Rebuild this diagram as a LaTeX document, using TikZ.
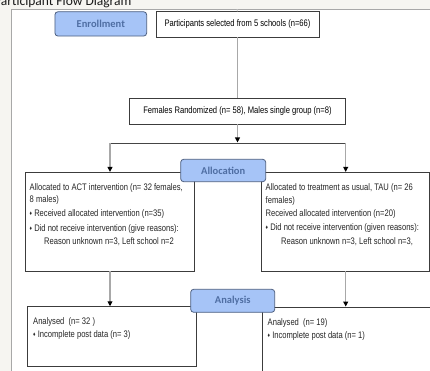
\documentclass[tikz,border=0pt]{standalone}
\usepackage{fontspec}
\setmainfont{Liberation Sans}
\newfontfamily\boxfont[FakeStretch=0.8]{Liberation Sans}
\newfontfamily\lblfont{Carlito}
\usetikzlibrary{arrows.meta}
\definecolor{bgc}{HTML}{F6F5F1}
\definecolor{framec}{HTML}{A8A8A8}
\definecolor{lblfill}{HTML}{A6C4F7}
\definecolor{lbldraw}{HTML}{4D5F80}
\definecolor{lbltext}{HTML}{4F6EA3}
\definecolor{boxdraw}{HTML}{3C3C3C}
\definecolor{vline}{HTML}{A8A8A8}
\definecolor{hline}{HTML}{454545}
\newcommand\mybul{{\fontsize{6}{6}\selectfont\raisebox{0.6pt}{♦}}}
\begin{document}
\begin{tikzpicture}[x=1pt,y=-1pt,
  box/.style={draw=boxdraw,line width=0.8pt,fill=white,rectangle,inner sep=0pt},
  lbl/.style={draw=lbldraw,line width=0.8pt,fill=lblfill,rounded corners=3pt,inner sep=0pt,
    font=\lblfont\bfseries\fontsize{10.5}{12}\selectfont,text=lbltext},
  txt/.style={anchor=base west,inner sep=0pt,font=\boxfont\fontsize{9.5}{11}\selectfont,text=black!85},
  flow/.style={draw=vline,line width=1.2pt,-{Triangle[length=5pt,width=4.8pt,color=black]}},
  plain/.style={draw=vline,line width=1.2pt},
  faint/.style={draw=black!15,line width=1pt},
  hl/.style={draw=hline,line width=0.9pt}
]
\useasboundingbox (0,0) rectangle (430,371);
\fill[bgc] (0,0) rectangle (430,371);
\fill[white] (11,9.5) rectangle (450,390);
\draw[framec,line width=0.9pt] (450,9.5) -- (11,9.5) -- (11,390);

\node[anchor=base west,inner sep=0pt,font=\lblfont\fontsize{13.5}{15}\selectfont,text=black!90] (title) at (-6,5.5) {Participant Flow Diagram};

\coordinate (ftop) at (237,9.5);
\node[box,minimum width=163pt,minimum height=25.3pt,font=\boxfont\fontsize{9.5}{11}\selectfont] (part) at (237.5,24.3) {Participants selected from 5 schools (n=66)};
\draw[faint] (ftop) -- (part.north);
\node[lbl,minimum width=91.7pt,minimum height=24.3pt] (enroll) at (100.8,23.9) {Enrollment};

\node[box,minimum width=216.4pt,minimum height=25.7pt,font=\boxfont\fontsize{9.5}{11}\selectfont] (fem) at (237.5,111.2) {Females Randomized (n= 58), Males single group (n=8)};
\draw[plain] (part.south) -- (fem.north);

\coordinate (split) at (237.5,142.5);
\coordinate (sl) at (110,143);
\coordinate (sr) at (345.7,143);

\node[box,minimum width=168.6pt,minimum height=98.7pt] (act) at (110,221.7) {};
\node[box,minimum width=168.3pt,minimum height=98.7pt] (tau) at (345.2,221.7) {};

\draw[flow] (fem.south) -- (split);
\draw[hl] (sl) -- (sr);
\draw[flow] (sl) -- (act.north);
\draw[flow] (sr) -- (sr |- tau.north);

\node[txt] (a1) at (29.5,190) {Allocated to ACT intervention (n= 32 females,};
\node[txt] (a2) at (29.5,202.5) {8 males)};
\node[txt] (a3) at (29.5,216) {\mybul\ Received allocated intervention (n=35)};
\node[txt] (a4) at (29.5,231) {\mybul\ Did not receive intervention (give reasons):};
\node[txt] (a5) at (44,244) {Reason unknown n=3, Left school n=2};

\node[txt] (t1) at (265.5,190) {Allocated to treatment as usual, TAU (n= 26};
\node[txt] (t2) at (265.5,203) {females)};
\node[txt] (t3) at (265.5,216.5) {Received allocated intervention (n=20)};
\node[txt] (t4) at (265.5,230) {\mybul\ Did not receive intervention (given reasons):};
\node[txt] (t5) at (281,244) {Reason unknown n=3, Left school n=3,};

\node[lbl,minimum width=85pt,minimum height=22.4pt] (alloc) at (223.2,170.5) {Allocation};

\node[box,minimum width=168.6pt,minimum height=60pt] (an1) at (112,336.7) {};
\node[box,minimum width=192.7pt,minimum height=83pt] (an2) at (358.6,348.5) {};
\draw[flow] (act.south) -- (act.south |- an1.north);
\draw[flow] (sr |- tau.south) -- (sr |- an2.north);

\node[txt] (b1) at (33,324) {Analysed\ \ (n= 32 )};
\node[txt] (b2) at (33,337) {\mybul\ Incomplete post data (n= 3)};
\node[txt] (c1) at (267.5,325) {Analysed\ \ (n= 19)};
\node[txt] (c2) at (267.5,338) {\mybul\ Incomplete post data (n= 1)};

\node[lbl,minimum width=84pt,minimum height=23pt] (analysis) at (232.7,300.8) {Analysis};
\end{tikzpicture}
\end{document}
